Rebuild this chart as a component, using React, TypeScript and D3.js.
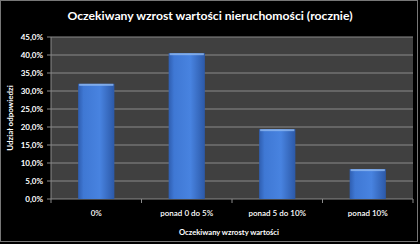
import React from "react";
import * as d3 from "d3";

const categories = ["0%", "ponad 0 do 5%", "ponad 5 do 10%", "ponad 10%"];
const values = [32.0, 40.5, 19.4, 8.3];
const yTicks = [0, 5, 10, 15, 20, 25, 30, 35, 40, 45];
const title = "Oczekiwany wzrost wartości nieruchomości (rocznie)";
const xTitle = "Oczekiwany wzrosty wartości";
const yTitle = "Udział odpowiedzi";

export default function App() {
  const W = 420, H = 244;
  const m = { left: 51, right: 7, top: 37, bottom: 45 };
  const x = d3.scaleBand().domain(categories).range([m.left, W - m.right]).paddingInner(0.6).paddingOuter(0.3);
  const xb = d3.scaleBand().domain(categories).range([m.left, W - m.right]);
  const y = d3.scaleLinear().domain([0, 45]).range([H - m.bottom, m.top]);
  const font = "Lato, 'Open Sans', sans-serif";
  const fmt = (v: number) => v.toFixed(1).replace(".", ",") + "%";
  return (
    <svg width={W} height={H} style={{ position: "absolute", left: 0, top: 0, background: "#000" }}>
      <defs>
        <linearGradient id="bar" x1="0" x2="1" y1="0" y2="0">
          <stop offset="0" stopColor="#2f5eb0" />
          <stop offset="0.15" stopColor="#3f78d4" />
          <stop offset="0.6" stopColor="#4883e0" />
          <stop offset="1" stopColor="#2c59a8" />
        </linearGradient>
      </defs>
      <rect x={0.5} y={0.5} width={W - 3} height={H - 3} fill="#000" stroke="#777" strokeWidth={1} />
      <text x={210} y={20} textAnchor="middle" fill="#fff" fontFamily={font} fontWeight="bold" fontSize={12.2}>{title}</text>
      <rect x={m.left} y={m.top} width={W - m.left - m.right} height={H - m.top - m.bottom} fill="#404040" />
      {yTicks.map((t) => (
        <g key={t}>
          {t > 0 && <line x1={m.left} x2={W - m.right} y1={y(t)} y2={y(t)} stroke="#8a8a8a" strokeWidth={1} />}
          <line x1={m.left - 4} x2={m.left} y1={y(t)} y2={y(t)} stroke="#8a8a8a" />
          <text x={m.left - 8} y={y(t) + 3} textAnchor="end" fill="#fff" fontFamily={font} fontWeight="bold" fontSize={8}>{fmt(t)}</text>
        </g>
      ))}
      <line x1={m.left} x2={m.left} y1={m.top} y2={H - m.bottom} stroke="#8a8a8a" />
      <line x1={m.left} x2={W - m.right} y1={H - m.bottom} y2={H - m.bottom} stroke="#8a8a8a" />
      {categories.map((c, i) => (
        <line key={"t" + i} x1={(xb(c) as number) + xb.bandwidth()} x2={(xb(c) as number) + xb.bandwidth()} y1={H - m.bottom} y2={H - m.bottom + 4} stroke="#8a8a8a" />
      ))}
      <line x1={m.left} x2={m.left} y1={H - m.bottom} y2={H - m.bottom + 4} stroke="#8a8a8a" />
      {categories.map((c, i) => {
        const bx = x(c) as number;
        const by = y(values[i]);
        return (
          <g key={c}>
            <rect x={bx} y={by} width={x.bandwidth()} height={y(0) - by} fill="url(#bar)" />
            <rect x={bx + 1} y={by} width={x.bandwidth() - 2} height={2} fill="#8fb8f0" opacity={0.8} />
          </g>
        );
      })}
      {categories.map((c) => (
        <text key={"l" + c} x={(xb(c) as number) + xb.bandwidth() / 2} y={H - m.bottom + 17} textAnchor="middle" fill="#fff" fontFamily={font} fontWeight="600" fontSize={8}>{c}</text>
      ))}
      <text x={229} y={235} textAnchor="middle" fill="#fff" fontFamily={font} fontWeight="bold" fontSize={7.6}>{xTitle}</text>
      <text transform={`translate(13,${(m.top + H - m.bottom) / 2}) rotate(-90)`} textAnchor="middle" fill="#fff" fontFamily={font} fontWeight="bold" fontSize={8}>{yTitle}</text>
    </svg>
  );
}
